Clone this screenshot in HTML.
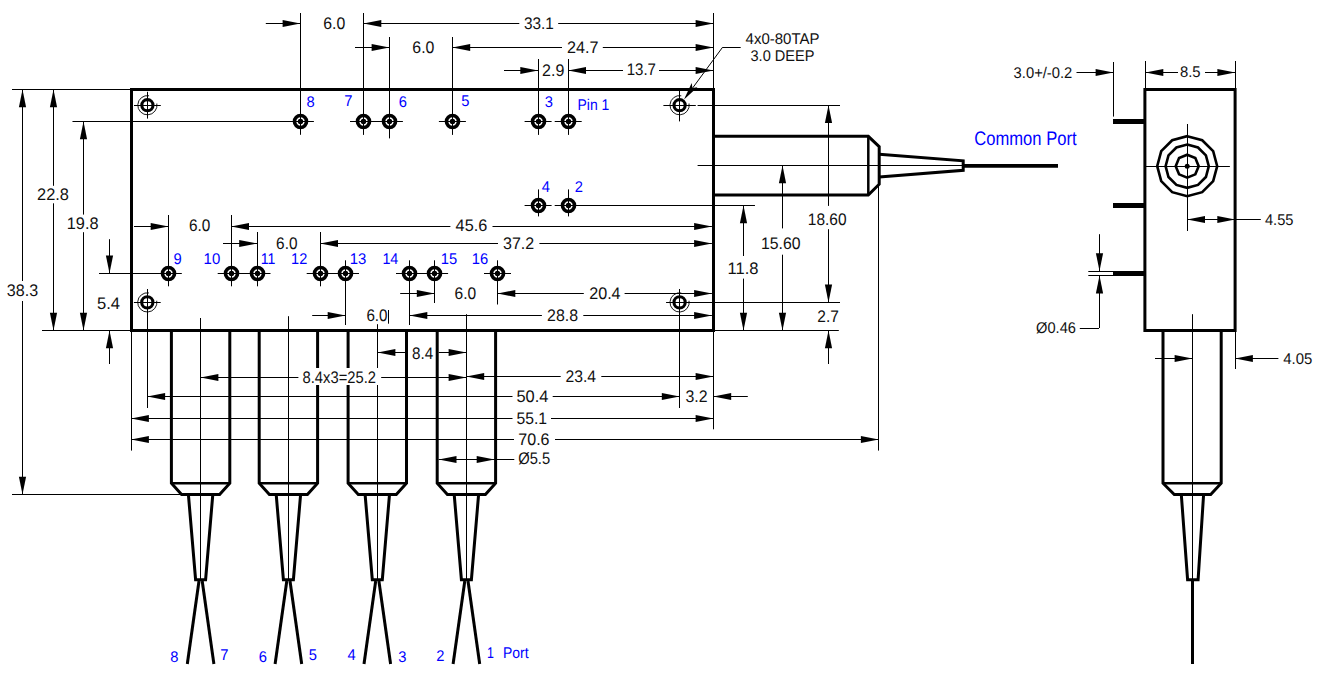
<!DOCTYPE html>
<html><head><meta charset="utf-8"><style>
html,body{margin:0;padding:0;background:#fff;}
svg{display:block;}
text{font-family:"Liberation Sans",sans-serif;text-rendering:geometricPrecision;}
.d{font-size:17px;fill:#111;}
.p{font-size:16.5px;fill:#0000ff;}
.cp{font-size:20px;fill:#0000ff;}
</style></head><body>
<svg width="1320" height="686" viewBox="0 0 1320 686">
<rect width="1320" height="686" fill="#fff"/>
<polygon points="131.50,89.50 713.50,89.50 713.50,330.50 131.50,330.50" fill="none" stroke="#000" stroke-width="3.0" stroke-linejoin="miter"/>
<circle cx="147.40" cy="105.20" r="5.6" fill="none" stroke="#000" stroke-width="3.1"/>
<path d="M156.85,103.53 A9.6,9.6 0 1 1 149.07,95.75" fill="none" stroke="#000" stroke-width="0.9"/>
<line x1="134.00" y1="105.50" x2="160.80" y2="105.50" stroke="#000" stroke-width="1.0"/>
<line x1="147.50" y1="91.80" x2="147.50" y2="118.60" stroke="#000" stroke-width="1.0"/>
<circle cx="679.60" cy="105.20" r="5.6" fill="none" stroke="#000" stroke-width="3.1"/>
<path d="M689.05,103.53 A9.6,9.6 0 1 1 681.27,95.75" fill="none" stroke="#000" stroke-width="0.9"/>
<line x1="663.40" y1="105.50" x2="695.80" y2="105.50" stroke="#000" stroke-width="1.0"/>
<line x1="679.50" y1="89.00" x2="679.50" y2="121.40" stroke="#000" stroke-width="1.0"/>
<circle cx="147.30" cy="302.40" r="5.6" fill="none" stroke="#000" stroke-width="3.1"/>
<path d="M156.75,300.73 A9.6,9.6 0 1 1 148.97,292.95" fill="none" stroke="#000" stroke-width="0.9"/>
<line x1="133.90" y1="302.50" x2="160.70" y2="302.50" stroke="#000" stroke-width="1.0"/>
<line x1="147.50" y1="289.00" x2="147.50" y2="315.80" stroke="#000" stroke-width="1.0"/>
<circle cx="679.60" cy="302.40" r="5.6" fill="none" stroke="#000" stroke-width="3.1"/>
<path d="M689.05,300.73 A9.6,9.6 0 1 1 681.27,292.95" fill="none" stroke="#000" stroke-width="0.9"/>
<line x1="666.20" y1="302.50" x2="693.00" y2="302.50" stroke="#000" stroke-width="1.0"/>
<line x1="679.50" y1="289.00" x2="679.50" y2="315.80" stroke="#000" stroke-width="1.0"/>
<line x1="72.70" y1="121.50" x2="313.90" y2="121.50" stroke="#000" stroke-width="1.0"/>
<line x1="300.50" y1="13.00" x2="300.50" y2="134.80" stroke="#000" stroke-width="1.0"/>
<circle cx="300.50" cy="121.50" r="6.0" fill="none" stroke="#000" stroke-width="3.6"/>
<circle cx="300.50" cy="121.50" r="2.7" fill="#000"/>
<line x1="350.00" y1="121.50" x2="377.00" y2="121.50" stroke="#000" stroke-width="1.0"/>
<line x1="363.50" y1="13.00" x2="363.50" y2="134.90" stroke="#000" stroke-width="1.0"/>
<circle cx="363.50" cy="121.50" r="6.0" fill="none" stroke="#000" stroke-width="3.6"/>
<circle cx="363.50" cy="121.50" r="2.7" fill="#000"/>
<line x1="375.90" y1="121.50" x2="402.90" y2="121.50" stroke="#000" stroke-width="1.0"/>
<line x1="389.50" y1="37.00" x2="389.50" y2="138.40" stroke="#000" stroke-width="1.0"/>
<circle cx="389.50" cy="121.50" r="6.0" fill="none" stroke="#000" stroke-width="3.6"/>
<circle cx="389.50" cy="121.50" r="2.7" fill="#000"/>
<line x1="438.90" y1="121.50" x2="465.90" y2="121.50" stroke="#000" stroke-width="1.0"/>
<line x1="452.50" y1="37.00" x2="452.50" y2="134.90" stroke="#000" stroke-width="1.0"/>
<circle cx="452.50" cy="121.50" r="6.0" fill="none" stroke="#000" stroke-width="3.6"/>
<circle cx="452.50" cy="121.50" r="2.7" fill="#000"/>
<line x1="524.60" y1="121.50" x2="551.60" y2="121.50" stroke="#000" stroke-width="1.0"/>
<line x1="538.50" y1="59.00" x2="538.50" y2="134.90" stroke="#000" stroke-width="1.0"/>
<circle cx="538.50" cy="121.50" r="6.0" fill="none" stroke="#000" stroke-width="3.6"/>
<circle cx="538.50" cy="121.50" r="2.7" fill="#000"/>
<line x1="554.70" y1="121.50" x2="581.70" y2="121.50" stroke="#000" stroke-width="1.0"/>
<line x1="568.50" y1="59.00" x2="568.50" y2="134.90" stroke="#000" stroke-width="1.0"/>
<circle cx="568.50" cy="121.50" r="6.0" fill="none" stroke="#000" stroke-width="3.6"/>
<circle cx="568.50" cy="121.50" r="2.7" fill="#000"/>
<line x1="524.60" y1="205.50" x2="551.60" y2="205.50" stroke="#000" stroke-width="1.0"/>
<line x1="538.50" y1="189.40" x2="538.50" y2="216.40" stroke="#000" stroke-width="1.0"/>
<circle cx="538.50" cy="205.50" r="6.0" fill="none" stroke="#000" stroke-width="3.6"/>
<circle cx="538.50" cy="205.50" r="2.7" fill="#000"/>
<line x1="554.70" y1="205.50" x2="754.80" y2="205.50" stroke="#000" stroke-width="1.0"/>
<line x1="568.50" y1="189.40" x2="568.50" y2="216.40" stroke="#000" stroke-width="1.0"/>
<circle cx="568.50" cy="205.50" r="6.0" fill="none" stroke="#000" stroke-width="3.6"/>
<circle cx="568.50" cy="205.50" r="2.7" fill="#000"/>
<line x1="99.00" y1="273.50" x2="181.80" y2="273.50" stroke="#000" stroke-width="1.0"/>
<line x1="168.50" y1="215.00" x2="168.50" y2="286.30" stroke="#000" stroke-width="1.0"/>
<circle cx="168.50" cy="273.50" r="6.0" fill="none" stroke="#000" stroke-width="3.6"/>
<circle cx="168.50" cy="273.50" r="2.7" fill="#000"/>
<line x1="217.70" y1="273.50" x2="244.70" y2="273.50" stroke="#000" stroke-width="1.0"/>
<line x1="231.50" y1="215.00" x2="231.50" y2="286.30" stroke="#000" stroke-width="1.0"/>
<circle cx="231.50" cy="273.50" r="6.0" fill="none" stroke="#000" stroke-width="3.6"/>
<circle cx="231.50" cy="273.50" r="2.7" fill="#000"/>
<line x1="243.50" y1="273.50" x2="270.50" y2="273.50" stroke="#000" stroke-width="1.0"/>
<line x1="257.50" y1="232.00" x2="257.50" y2="286.30" stroke="#000" stroke-width="1.0"/>
<circle cx="257.50" cy="273.50" r="6.0" fill="none" stroke="#000" stroke-width="3.6"/>
<circle cx="257.50" cy="273.50" r="2.7" fill="#000"/>
<line x1="306.70" y1="273.50" x2="333.70" y2="273.50" stroke="#000" stroke-width="1.0"/>
<line x1="320.50" y1="232.00" x2="320.50" y2="286.30" stroke="#000" stroke-width="1.0"/>
<circle cx="320.50" cy="273.50" r="6.0" fill="none" stroke="#000" stroke-width="3.6"/>
<circle cx="320.50" cy="273.50" r="2.7" fill="#000"/>
<line x1="332.00" y1="273.50" x2="359.00" y2="273.50" stroke="#000" stroke-width="1.0"/>
<line x1="345.50" y1="260.30" x2="345.50" y2="325.00" stroke="#000" stroke-width="1.0"/>
<circle cx="345.50" cy="273.50" r="6.0" fill="none" stroke="#000" stroke-width="3.6"/>
<circle cx="345.50" cy="273.50" r="2.7" fill="#000"/>
<line x1="396.00" y1="273.50" x2="423.00" y2="273.50" stroke="#000" stroke-width="1.0"/>
<line x1="409.50" y1="260.30" x2="409.50" y2="325.00" stroke="#000" stroke-width="1.0"/>
<circle cx="409.50" cy="273.50" r="6.0" fill="none" stroke="#000" stroke-width="3.6"/>
<circle cx="409.50" cy="273.50" r="2.7" fill="#000"/>
<line x1="421.10" y1="273.50" x2="448.10" y2="273.50" stroke="#000" stroke-width="1.0"/>
<line x1="434.50" y1="260.30" x2="434.50" y2="303.00" stroke="#000" stroke-width="1.0"/>
<circle cx="434.50" cy="273.50" r="6.0" fill="none" stroke="#000" stroke-width="3.6"/>
<circle cx="434.50" cy="273.50" r="2.7" fill="#000"/>
<line x1="484.00" y1="273.50" x2="511.00" y2="273.50" stroke="#000" stroke-width="1.0"/>
<line x1="497.50" y1="260.30" x2="497.50" y2="304.50" stroke="#000" stroke-width="1.0"/>
<circle cx="497.50" cy="273.50" r="6.0" fill="none" stroke="#000" stroke-width="3.6"/>
<circle cx="497.50" cy="273.50" r="2.7" fill="#000"/>
<line x1="265.80" y1="23.50" x2="300.40" y2="23.50" stroke="#000" stroke-width="1.0"/>
<polygon points="300.40,23.50 282.60,19.90 282.60,27.10" fill="#000"/>
<line x1="363.50" y1="23.50" x2="519.30" y2="23.50" stroke="#000" stroke-width="1.0"/>
<line x1="558.20" y1="23.50" x2="713.40" y2="23.50" stroke="#000" stroke-width="1.0"/>
<polygon points="363.50,23.50 381.30,19.90 381.30,27.10" fill="#000"/>
<polygon points="713.40,23.50 695.60,19.90 695.60,27.10" fill="#000"/>
<line x1="355.00" y1="47.50" x2="389.40" y2="47.50" stroke="#000" stroke-width="1.0"/>
<polygon points="389.40,47.50 371.60,43.90 371.60,51.10" fill="#000"/>
<line x1="452.40" y1="47.50" x2="562.00" y2="47.50" stroke="#000" stroke-width="1.0"/>
<line x1="602.80" y1="47.50" x2="713.40" y2="47.50" stroke="#000" stroke-width="1.0"/>
<polygon points="452.40,47.50 470.20,43.90 470.20,51.10" fill="#000"/>
<polygon points="713.40,47.50 695.60,43.90 695.60,51.10" fill="#000"/>
<line x1="504.00" y1="70.50" x2="538.10" y2="70.50" stroke="#000" stroke-width="1.0"/>
<polygon points="538.10,70.50 520.30,66.90 520.30,74.10" fill="#000"/>
<line x1="568.20" y1="70.50" x2="623.00" y2="70.50" stroke="#000" stroke-width="1.0"/>
<line x1="659.00" y1="70.50" x2="713.40" y2="70.50" stroke="#000" stroke-width="1.0"/>
<polygon points="568.20,70.50 586.00,66.90 586.00,74.10" fill="#000"/>
<polygon points="713.40,70.50 695.60,66.90 695.60,74.10" fill="#000"/>
<line x1="713.50" y1="13.00" x2="713.50" y2="89.30" stroke="#000" stroke-width="1.0"/>
<line x1="740.70" y1="47.50" x2="722.70" y2="47.50" stroke="#000" stroke-width="1.0"/>
<line x1="722.70" y1="47.10" x2="686.00" y2="97.00" stroke="#000" stroke-width="1.0"/>
<polygon points="684.00,99.50 691.68,83.04 692.46,88.05 697.47,87.32" fill="#000"/>
<line x1="12.00" y1="89.50" x2="131.10" y2="89.50" stroke="#000" stroke-width="1.0"/>
<line x1="22.50" y1="89.50" x2="22.50" y2="281.00" stroke="#000" stroke-width="1.0"/>
<line x1="22.50" y1="301.00" x2="22.50" y2="494.50" stroke="#000" stroke-width="1.0"/>
<polygon points="22.50,89.50 18.90,107.30 26.10,107.30" fill="#000"/>
<polygon points="22.50,494.50 18.90,476.70 26.10,476.70" fill="#000"/>
<line x1="53.50" y1="89.50" x2="53.50" y2="185.80" stroke="#000" stroke-width="1.0"/>
<line x1="53.50" y1="203.30" x2="53.50" y2="330.50" stroke="#000" stroke-width="1.0"/>
<polygon points="53.50,89.50 49.90,107.30 57.10,107.30" fill="#000"/>
<polygon points="53.50,330.50 49.90,312.70 57.10,312.70" fill="#000"/>
<line x1="72.70" y1="121.50" x2="83.50" y2="121.50" stroke="#000" stroke-width="1.0"/>
<line x1="83.50" y1="121.40" x2="83.50" y2="214.60" stroke="#000" stroke-width="1.0"/>
<line x1="83.50" y1="232.20" x2="83.50" y2="330.50" stroke="#000" stroke-width="1.0"/>
<polygon points="83.50,121.40 79.90,139.20 87.10,139.20" fill="#000"/>
<polygon points="83.50,330.50 79.90,312.70 87.10,312.70" fill="#000"/>
<line x1="42.00" y1="330.50" x2="131.10" y2="330.50" stroke="#000" stroke-width="1.0"/>
<line x1="12.00" y1="494.50" x2="181.80" y2="494.50" stroke="#000" stroke-width="1.0"/>
<line x1="109.50" y1="239.20" x2="109.50" y2="273.30" stroke="#000" stroke-width="1.0"/>
<polygon points="109.50,273.30 105.90,255.50 113.10,255.50" fill="#000"/>
<line x1="109.50" y1="330.50" x2="109.50" y2="364.00" stroke="#000" stroke-width="1.0"/>
<polygon points="109.50,330.50 105.90,348.30 113.10,348.30" fill="#000"/>
<line x1="134.00" y1="226.50" x2="168.50" y2="226.50" stroke="#000" stroke-width="1.0"/>
<polygon points="168.50,226.50 150.70,222.90 150.70,230.10" fill="#000"/>
<line x1="231.20" y1="226.50" x2="450.40" y2="226.50" stroke="#000" stroke-width="1.0"/>
<line x1="492.50" y1="226.50" x2="711.90" y2="226.50" stroke="#000" stroke-width="1.0"/>
<polygon points="231.20,226.50 249.00,222.90 249.00,230.10" fill="#000"/>
<polygon points="711.90,226.50 694.10,222.90 694.10,230.10" fill="#000"/>
<line x1="223.00" y1="243.50" x2="257.00" y2="243.50" stroke="#000" stroke-width="1.0"/>
<polygon points="257.00,243.50 239.20,239.90 239.20,247.10" fill="#000"/>
<line x1="320.20" y1="243.50" x2="498.00" y2="243.50" stroke="#000" stroke-width="1.0"/>
<line x1="539.40" y1="243.50" x2="711.90" y2="243.50" stroke="#000" stroke-width="1.0"/>
<polygon points="320.20,243.50 338.00,239.90 338.00,247.10" fill="#000"/>
<polygon points="711.90,243.50 694.10,239.90 694.10,247.10" fill="#000"/>
<line x1="400.20" y1="293.50" x2="434.60" y2="293.50" stroke="#000" stroke-width="1.0"/>
<polygon points="434.60,293.50 416.80,289.90 416.80,297.10" fill="#000"/>
<line x1="497.50" y1="293.50" x2="583.80" y2="293.50" stroke="#000" stroke-width="1.0"/>
<line x1="624.60" y1="293.50" x2="711.90" y2="293.50" stroke="#000" stroke-width="1.0"/>
<polygon points="497.50,293.50 515.30,289.90 515.30,297.10" fill="#000"/>
<polygon points="711.90,293.50 694.10,289.90 694.10,297.10" fill="#000"/>
<line x1="312.20" y1="315.50" x2="345.50" y2="315.50" stroke="#000" stroke-width="1.0"/>
<polygon points="345.50,315.50 327.70,311.90 327.70,319.10" fill="#000"/>
<line x1="388.50" y1="310.00" x2="388.50" y2="323.70" stroke="#000" stroke-width="1.0"/>
<line x1="409.50" y1="315.50" x2="541.90" y2="315.50" stroke="#000" stroke-width="1.0"/>
<line x1="583.30" y1="315.50" x2="711.90" y2="315.50" stroke="#000" stroke-width="1.0"/>
<polygon points="409.50,315.50 427.30,311.90 427.30,319.10" fill="#000"/>
<polygon points="711.90,315.50 694.10,311.90 694.10,319.10" fill="#000"/>
<line x1="754.80" y1="205.50" x2="568.20" y2="205.50" stroke="#000" stroke-width="1.0"/>
<line x1="697.60" y1="105.50" x2="840.00" y2="105.50" stroke="#000" stroke-width="1.0"/>
<line x1="666.30" y1="302.50" x2="840.00" y2="302.50" stroke="#000" stroke-width="1.0"/>
<line x1="713.40" y1="330.50" x2="838.80" y2="330.50" stroke="#000" stroke-width="1.0"/>
<line x1="743.50" y1="205.40" x2="743.50" y2="256.00" stroke="#000" stroke-width="1.0"/>
<line x1="743.50" y1="278.60" x2="743.50" y2="330.50" stroke="#000" stroke-width="1.0"/>
<polygon points="743.50,205.40 739.90,223.20 747.10,223.20" fill="#000"/>
<polygon points="743.50,330.50 739.90,312.70 747.10,312.70" fill="#000"/>
<line x1="782.50" y1="165.50" x2="782.50" y2="228.40" stroke="#000" stroke-width="1.0"/>
<line x1="782.50" y1="254.70" x2="782.50" y2="330.50" stroke="#000" stroke-width="1.0"/>
<polygon points="782.50,165.50 778.90,183.30 786.10,183.30" fill="#000"/>
<polygon points="782.50,330.50 778.90,312.70 786.10,312.70" fill="#000"/>
<line x1="828.50" y1="105.30" x2="828.50" y2="205.90" stroke="#000" stroke-width="1.0"/>
<line x1="828.50" y1="229.20" x2="828.50" y2="302.40" stroke="#000" stroke-width="1.0"/>
<polygon points="828.50,105.30 824.90,123.10 832.10,123.10" fill="#000"/>
<polygon points="828.50,302.40 824.90,284.60 832.10,284.60" fill="#000"/>
<line x1="828.50" y1="330.50" x2="828.50" y2="364.00" stroke="#000" stroke-width="1.0"/>
<polygon points="828.50,330.50 824.90,348.30 832.10,348.30" fill="#000"/>
<polyline points="713.40,136.30 868.30,136.30 879.20,146.70 879.20,184.20 868.30,195.00 713.40,195.00" fill="none" stroke="#000" stroke-width="3.0" stroke-linejoin="miter"/>
<line x1="868.30" y1="136.30" x2="868.30" y2="195.00" stroke="#000" stroke-width="2.5"/>
<polyline points="879.20,154.20 963.20,160.80 963.20,170.30 879.20,177.00" fill="none" stroke="#000" stroke-width="3.0" stroke-linejoin="miter"/>
<line x1="697.60" y1="165.50" x2="964.20" y2="165.50" stroke="#000" stroke-width="1.0"/>
<line x1="963.20" y1="165.90" x2="1058.00" y2="165.90" stroke="#000" stroke-width="3.8"/>
<line x1="878.50" y1="184.20" x2="878.50" y2="450.60" stroke="#000" stroke-width="1.0"/>
<polyline points="171.40,330.50 171.40,483.20 181.60,494.50 219.60,494.50 229.80,483.20 229.80,330.50" fill="none" stroke="#000" stroke-width="3.0" stroke-linejoin="miter"/>
<line x1="171.40" y1="483.20" x2="229.80" y2="483.20" stroke="#000" stroke-width="2.5"/>
<polyline points="188.40,494.50 195.60,579.70 205.60,579.70 212.80,494.50" fill="none" stroke="#000" stroke-width="3.0" stroke-linejoin="miter"/>
<line x1="200.50" y1="318.00" x2="200.50" y2="579.70" stroke="#000" stroke-width="1.0"/>
<line x1="199.00" y1="581.00" x2="187.30" y2="664.00" stroke="#000" stroke-width="3.0"/>
<line x1="202.20" y1="581.00" x2="213.90" y2="664.00" stroke="#000" stroke-width="3.0"/>
<polyline points="259.20,330.50 259.20,483.20 269.40,494.50 307.40,494.50 317.60,483.20 317.60,330.50" fill="none" stroke="#000" stroke-width="3.0" stroke-linejoin="miter"/>
<line x1="259.20" y1="483.20" x2="317.60" y2="483.20" stroke="#000" stroke-width="2.5"/>
<polyline points="276.20,494.50 283.40,579.70 293.40,579.70 300.60,494.50" fill="none" stroke="#000" stroke-width="3.0" stroke-linejoin="miter"/>
<line x1="288.50" y1="316.20" x2="288.50" y2="579.70" stroke="#000" stroke-width="1.0"/>
<line x1="286.80" y1="581.00" x2="275.10" y2="664.00" stroke="#000" stroke-width="3.0"/>
<line x1="290.00" y1="581.00" x2="301.70" y2="664.00" stroke="#000" stroke-width="3.0"/>
<polyline points="348.10,330.50 348.10,483.20 358.30,494.50 396.30,494.50 406.50,483.20 406.50,330.50" fill="none" stroke="#000" stroke-width="3.0" stroke-linejoin="miter"/>
<line x1="348.10" y1="483.20" x2="406.50" y2="483.20" stroke="#000" stroke-width="2.5"/>
<polyline points="365.10,494.50 372.30,579.70 382.30,579.70 389.50,494.50" fill="none" stroke="#000" stroke-width="3.0" stroke-linejoin="miter"/>
<line x1="377.50" y1="324.20" x2="377.50" y2="579.70" stroke="#000" stroke-width="1.0"/>
<line x1="375.70" y1="581.00" x2="364.00" y2="664.00" stroke="#000" stroke-width="3.0"/>
<line x1="378.90" y1="581.00" x2="390.60" y2="664.00" stroke="#000" stroke-width="3.0"/>
<polyline points="437.20,330.50 437.20,483.20 447.40,494.50 485.40,494.50 495.60,483.20 495.60,330.50" fill="none" stroke="#000" stroke-width="3.0" stroke-linejoin="miter"/>
<line x1="437.20" y1="483.20" x2="495.60" y2="483.20" stroke="#000" stroke-width="2.5"/>
<polyline points="454.20,494.50 461.40,579.70 471.40,579.70 478.60,494.50" fill="none" stroke="#000" stroke-width="3.0" stroke-linejoin="miter"/>
<line x1="466.50" y1="314.20" x2="466.50" y2="579.70" stroke="#000" stroke-width="1.0"/>
<line x1="464.80" y1="581.00" x2="453.10" y2="664.00" stroke="#000" stroke-width="3.0"/>
<line x1="468.00" y1="581.00" x2="479.70" y2="664.00" stroke="#000" stroke-width="3.0"/>
<line x1="131.50" y1="330.50" x2="131.50" y2="450.60" stroke="#000" stroke-width="1.0"/>
<line x1="147.50" y1="302.40" x2="147.50" y2="408.00" stroke="#000" stroke-width="1.0"/>
<line x1="679.50" y1="302.40" x2="679.50" y2="408.00" stroke="#000" stroke-width="1.0"/>
<line x1="713.50" y1="330.50" x2="713.50" y2="429.30" stroke="#000" stroke-width="1.0"/>
<line x1="377.60" y1="352.50" x2="405.50" y2="352.50" stroke="#000" stroke-width="1.0"/>
<polygon points="377.60,352.50 395.40,348.90 395.40,356.10" fill="#000"/>
<line x1="438.70" y1="352.50" x2="466.40" y2="352.50" stroke="#000" stroke-width="1.0"/>
<polygon points="466.40,352.50 448.60,348.90 448.60,356.10" fill="#000"/>
<line x1="200.60" y1="377.50" x2="298.40" y2="377.50" stroke="#000" stroke-width="1.0"/>
<polygon points="200.60,377.50 218.40,373.90 218.40,381.10" fill="#000"/>
<line x1="381.20" y1="377.50" x2="466.40" y2="377.50" stroke="#000" stroke-width="1.0"/>
<polygon points="466.40,377.50 448.60,373.90 448.60,381.10" fill="#000"/>
<rect x="301" y="368" width="77" height="17" fill="#fff"/>
<line x1="466.40" y1="376.50" x2="560.70" y2="376.50" stroke="#000" stroke-width="1.0"/>
<polygon points="466.40,376.50 484.20,372.90 484.20,380.10" fill="#000"/>
<line x1="601.30" y1="376.50" x2="713.40" y2="376.50" stroke="#000" stroke-width="1.0"/>
<polygon points="713.40,376.50 695.60,372.90 695.60,380.10" fill="#000"/>
<line x1="147.30" y1="396.50" x2="512.50" y2="396.50" stroke="#000" stroke-width="1.0"/>
<line x1="552.70" y1="396.50" x2="679.60" y2="396.50" stroke="#000" stroke-width="1.0"/>
<polygon points="147.30,396.50 165.10,392.90 165.10,400.10" fill="#000"/>
<polygon points="679.60,396.50 661.80,392.90 661.80,400.10" fill="#000"/>
<line x1="713.40" y1="396.50" x2="747.80" y2="396.50" stroke="#000" stroke-width="1.0"/>
<polygon points="713.40,396.50 731.20,392.90 731.20,400.10" fill="#000"/>
<line x1="131.10" y1="418.50" x2="512.50" y2="418.50" stroke="#000" stroke-width="1.0"/>
<line x1="551.00" y1="418.50" x2="713.40" y2="418.50" stroke="#000" stroke-width="1.0"/>
<polygon points="131.10,418.50 148.90,414.90 148.90,422.10" fill="#000"/>
<polygon points="713.40,418.50 695.60,414.90 695.60,422.10" fill="#000"/>
<line x1="131.10" y1="439.50" x2="514.00" y2="439.50" stroke="#000" stroke-width="1.0"/>
<line x1="555.00" y1="439.50" x2="878.70" y2="439.50" stroke="#000" stroke-width="1.0"/>
<polygon points="131.10,439.50 148.90,435.90 148.90,443.10" fill="#000"/>
<polygon points="878.70,439.50 860.90,435.90 860.90,443.10" fill="#000"/>
<line x1="438.70" y1="459.50" x2="514.30" y2="459.50" stroke="#000" stroke-width="1.0"/>
<polygon points="438.70,459.50 456.50,455.90 456.50,463.10" fill="#000"/>
<polygon points="494.50,459.50 476.70,455.90 476.70,463.10" fill="#000"/>
<polygon points="1144.90,89.50 1235.10,89.50 1235.10,330.50 1144.90,330.50" fill="none" stroke="#000" stroke-width="3.0" stroke-linejoin="miter"/>
<line x1="1113.00" y1="121.50" x2="1144.90" y2="121.50" stroke="#000" stroke-width="5"/>
<line x1="1113.00" y1="205.50" x2="1144.90" y2="205.50" stroke="#000" stroke-width="5"/>
<line x1="1113.00" y1="273.50" x2="1144.90" y2="273.50" stroke="#000" stroke-width="5"/>
<polygon points="1187.20,136.20 1202.20,140.22 1213.18,151.20 1217.20,166.20 1213.18,181.20 1202.20,192.18 1187.20,196.20 1172.20,192.18 1161.22,181.20 1157.20,166.20 1161.22,151.20 1172.20,140.22" fill="none" stroke="#000" stroke-width="2.6" stroke-linejoin="miter"/>
<polygon points="1187.20,144.60 1198.00,147.49 1205.91,155.40 1208.80,166.20 1205.91,177.00 1198.00,184.91 1187.20,187.80 1176.40,184.91 1168.49,177.00 1165.60,166.20 1168.49,155.40 1176.40,147.49" fill="none" stroke="#000" stroke-width="2.6" stroke-linejoin="miter"/>
<polygon points="1187.20,154.70 1195.33,158.07 1198.70,166.20 1195.33,174.33 1187.20,177.70 1179.07,174.33 1175.70,166.20 1179.07,158.07" fill="none" stroke="#000" stroke-width="2.6" stroke-linejoin="miter"/>
<circle cx="1187.2" cy="166.2" r="2.5" fill="#000"/>
<line x1="1144.60" y1="166.50" x2="1229.90" y2="166.50" stroke="#000" stroke-width="1.0"/>
<line x1="1187.50" y1="124.00" x2="1187.50" y2="231.00" stroke="#000" stroke-width="1.0"/>
<line x1="1113.50" y1="62.00" x2="1113.50" y2="116.60" stroke="#000" stroke-width="1.0"/>
<line x1="1076.50" y1="72.50" x2="1113.40" y2="72.50" stroke="#000" stroke-width="1.0"/>
<polygon points="1113.40,72.50 1095.60,68.90 1095.60,76.10" fill="#000"/>
<line x1="1145.50" y1="61.00" x2="1145.50" y2="89.50" stroke="#000" stroke-width="1.0"/>
<line x1="1235.50" y1="61.00" x2="1235.50" y2="89.50" stroke="#000" stroke-width="1.0"/>
<line x1="1145.50" y1="72.50" x2="1178.00" y2="72.50" stroke="#000" stroke-width="1.0"/>
<line x1="1205.00" y1="72.50" x2="1235.20" y2="72.50" stroke="#000" stroke-width="1.0"/>
<polygon points="1145.50,72.50 1163.30,68.90 1163.30,76.10" fill="#000"/>
<polygon points="1235.20,72.50 1217.40,68.90 1217.40,76.10" fill="#000"/>
<line x1="1187.20" y1="219.50" x2="1260.80" y2="219.50" stroke="#000" stroke-width="1.0"/>
<polygon points="1187.20,219.50 1205.00,215.90 1205.00,223.10" fill="#000"/>
<polygon points="1235.10,219.50 1217.30,215.90 1217.30,223.10" fill="#000"/>
<line x1="1099.50" y1="234.20" x2="1099.50" y2="271.00" stroke="#000" stroke-width="1.0"/>
<polygon points="1099.50,271.00 1095.90,253.20 1103.10,253.20" fill="#000"/>
<line x1="1099.50" y1="275.60" x2="1099.50" y2="328.00" stroke="#000" stroke-width="1.0"/>
<polygon points="1099.50,275.60 1095.90,293.40 1103.10,293.40" fill="#000"/>
<line x1="1099.00" y1="328.50" x2="1079.80" y2="328.50" stroke="#000" stroke-width="1.0"/>
<line x1="1088.30" y1="271.50" x2="1113.00" y2="271.50" stroke="#000" stroke-width="1.0"/>
<line x1="1088.30" y1="275.50" x2="1113.00" y2="275.50" stroke="#000" stroke-width="1.0"/>
<polyline points="1163.00,330.50 1163.00,483.20 1174.30,494.50 1210.70,494.50 1221.20,483.20 1221.20,330.50" fill="none" stroke="#000" stroke-width="3.0" stroke-linejoin="miter"/>
<line x1="1163.00" y1="483.20" x2="1221.20" y2="483.20" stroke="#000" stroke-width="2.5"/>
<polyline points="1181.30,494.50 1187.60,579.70 1198.10,579.70 1203.60,494.50" fill="none" stroke="#000" stroke-width="3.0" stroke-linejoin="miter"/>
<line x1="1192.50" y1="314.20" x2="1192.50" y2="579.70" stroke="#000" stroke-width="1.0"/>
<line x1="1192.50" y1="579.70" x2="1192.50" y2="664.00" stroke="#000" stroke-width="3.0"/>
<line x1="1235.50" y1="330.50" x2="1235.50" y2="369.00" stroke="#000" stroke-width="1.0"/>
<line x1="1155.00" y1="358.50" x2="1192.40" y2="358.50" stroke="#000" stroke-width="1.0"/>
<polygon points="1192.40,358.50 1174.60,354.90 1174.60,362.10" fill="#000"/>
<line x1="1235.10" y1="358.50" x2="1278.40" y2="358.50" stroke="#000" stroke-width="1.0"/>
<polygon points="1235.10,358.50 1252.90,354.90 1252.90,362.10" fill="#000"/>
<text transform="translate(323.30,29) scale(0.944,1)" class="d" style="font-size:16.75px">6.0</text>
<text transform="translate(523.90,29) scale(0.916,1)" class="d" style="font-size:16.75px">33.1</text>
<text transform="translate(412.30,53) scale(0.948,1)" class="d" style="font-size:16.75px">6.0</text>
<text transform="translate(567.00,53) scale(0.966,1)" class="d" style="font-size:16.75px">24.7</text>
<text transform="translate(542.10,76) scale(0.957,1)" class="d" style="font-size:16.75px">2.9</text>
<text transform="translate(626.70,75) scale(0.897,1)" class="d" style="font-size:16.75px">13.7</text>
<text transform="translate(745.60,44) scale(0.967,1)" class="d" style="font-size:15.5px">4x0-80TAP</text>
<text transform="translate(750.50,61) scale(0.941,1)" class="d" style="font-size:15.5px">3.0 DEEP</text>
<text transform="translate(6.80,296) scale(0.959,1)" class="d" style="font-size:16.75px">38.3</text>
<text transform="translate(37.10,200) scale(0.978,1)" class="d" style="font-size:16.75px">22.8</text>
<text transform="translate(66.80,229) scale(0.974,1)" class="d" style="font-size:16.75px">19.8</text>
<text transform="translate(97.00,309) scale(0.991,1)" class="d" style="font-size:16.75px">5.4</text>
<text transform="translate(188.90,231) scale(0.917,1)" class="d" style="font-size:16.75px">6.0</text>
<text transform="translate(455.60,231) scale(0.972,1)" class="d" style="font-size:16.75px">45.6</text>
<text transform="translate(276.10,249) scale(0.917,1)" class="d" style="font-size:16.75px">6.0</text>
<text transform="translate(503.00,249) scale(0.956,1)" class="d" style="font-size:16.75px">37.2</text>
<text transform="translate(454.50,299) scale(0.930,1)" class="d" style="font-size:16.75px">6.0</text>
<text transform="translate(589.20,299) scale(0.963,1)" class="d" style="font-size:16.75px">20.4</text>
<text transform="translate(366.40,321) scale(0.909,1)" class="d" style="font-size:16.75px">6.0</text>
<text transform="translate(547.10,321) scale(0.950,1)" class="d" style="font-size:16.75px">28.8</text>
<text transform="translate(807.80,225) scale(0.924,1)" class="d" style="font-size:16.75px">18.60</text>
<text transform="translate(761.00,249) scale(0.944,1)" class="d" style="font-size:16.75px">15.60</text>
<text transform="translate(727.60,274) scale(0.987,1)" class="d" style="font-size:16.75px">11.8</text>
<text transform="translate(817.30,322) scale(0.926,1)" class="d" style="font-size:16.75px">2.7</text>
<text transform="translate(412.10,359) scale(0.909,1)" class="d" style="font-size:16.75px">8.4</text>
<text transform="translate(302.58,383) scale(0.880,1)" class="d" style="font-size:16.75px">8.4x3=25.2</text>
<text transform="translate(565.50,382) scale(0.938,1)" class="d" style="font-size:16.75px">23.4</text>
<text transform="translate(516.40,402) scale(0.981,1)" class="d" style="font-size:16.75px">50.4</text>
<text transform="translate(685.40,402) scale(0.948,1)" class="d" style="font-size:16.75px">3.2</text>
<text transform="translate(516.40,424) scale(0.939,1)" class="d" style="font-size:16.75px">55.1</text>
<text transform="translate(518.30,445) scale(0.958,1)" class="d" style="font-size:16.75px">70.6</text>
<text transform="translate(518.16,464) scale(0.880,1)" class="d" style="font-size:16.75px">Ø5.5</text>
<text transform="translate(1013.60,78) scale(0.953,1)" class="d" style="font-size:15.5px">3.0+/-0.2</text>
<text transform="translate(1180.00,77) scale(0.957,1)" class="d" style="font-size:15.5px">8.5</text>
<text transform="translate(1264.90,225) scale(0.947,1)" class="d" style="font-size:15.5px">4.55</text>
<text transform="translate(1036.10,333) scale(0.943,1)" class="d" style="font-size:15.5px">Ø0.46</text>
<text transform="translate(1283.20,364) scale(0.963,1)" class="d" style="font-size:15.5px">4.05</text>
<text transform="translate(306.45,107) scale(0.950,1)" class="p" style="font-size:15.5px">8</text>
<text transform="translate(344.24,106) scale(0.950,1)" class="p" style="font-size:15.5px">7</text>
<text transform="translate(398.65,107) scale(0.950,1)" class="p" style="font-size:15.5px">6</text>
<text transform="translate(461.34,106) scale(0.950,1)" class="p" style="font-size:15.5px">5</text>
<text transform="translate(544.80,107) scale(0.950,1)" class="p" style="font-size:15.5px">3</text>
<text transform="translate(577.50,110) scale(0.900,1)" class="p" style="font-size:15.5px">Pin 1</text>
<text transform="translate(541.80,192) scale(0.950,1)" class="p" style="font-size:15.5px">4</text>
<text transform="translate(574.75,192) scale(0.950,1)" class="p" style="font-size:15.5px">2</text>
<text transform="translate(173.55,264) scale(0.950,1)" class="p" style="font-size:15.5px">9</text>
<text transform="translate(203.60,264) scale(0.963,1)" class="p" style="font-size:15.5px">10</text>
<text transform="translate(260.70,264) scale(0.913,1)" class="p" style="font-size:15.5px">11</text>
<text transform="translate(291.10,264) scale(0.938,1)" class="p" style="font-size:15.5px">12</text>
<text transform="translate(349.70,264) scale(0.963,1)" class="p" style="font-size:15.5px">13</text>
<text transform="translate(382.40,264) scale(0.925,1)" class="p" style="font-size:15.5px">14</text>
<text transform="translate(440.80,264) scale(0.950,1)" class="p" style="font-size:15.5px">15</text>
<text transform="translate(471.70,264) scale(0.950,1)" class="p" style="font-size:15.5px">16</text>
<text transform="translate(170.20,662) scale(0.950,1)" class="p" style="font-size:15.5px">8</text>
<text transform="translate(220.27,660) scale(0.950,1)" class="p" style="font-size:15.5px">7</text>
<text transform="translate(258.75,662) scale(0.950,1)" class="p" style="font-size:15.5px">6</text>
<text transform="translate(308.86,660) scale(0.950,1)" class="p" style="font-size:15.5px">5</text>
<text transform="translate(347.55,660) scale(0.950,1)" class="p" style="font-size:15.5px">4</text>
<text transform="translate(398.15,662) scale(0.950,1)" class="p" style="font-size:15.5px">3</text>
<text transform="translate(436.35,661) scale(0.950,1)" class="p" style="font-size:15.5px">2</text>
<text transform="translate(487.00,658) scale(0.800,1)" class="p" style="font-size:15.5px">1</text>
<text transform="translate(502.99,658) scale(0.900,1)" class="p" style="font-size:15.5px">Port</text>
<text transform="translate(974.30,145) scale(0.846,1)" class="cp" style="font-size:19.6px">Common Port</text>
</svg></body></html>
